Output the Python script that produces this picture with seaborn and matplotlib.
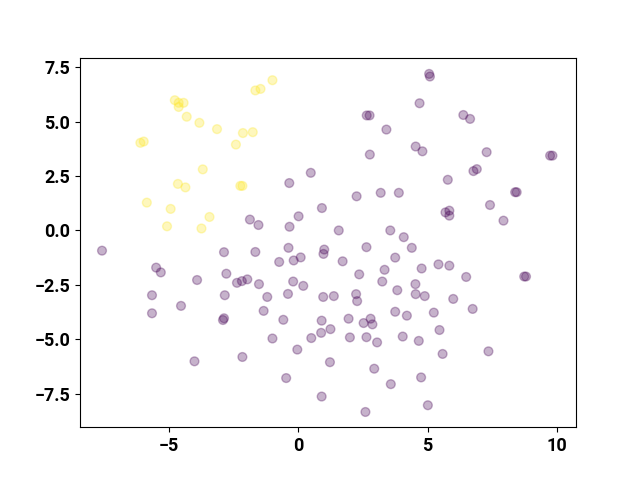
import matplotlib
matplotlib.use("Agg")
import matplotlib.pyplot as plt
import seaborn as sns
import pandas as pd

# class 1 (yellow)
yellow_x = [-4.76, -4.61, -4.42, -4.61, -4.30, -3.81, -3.13, -2.13, -1.75, -2.40,
            -6.09, -5.96, -3.68, -4.64, -4.35, -2.23, -2.15, -5.84, -4.92, -3.42,
            -5.06, -3.73, -0.99, -1.45, -1.65]
yellow_y = [5.99, 5.87, 5.87, 5.68, 5.23, 4.95, 4.66, 4.48, 4.52, 3.95,
            4.03, 4.09, 2.81, 2.14, 1.98, 2.05, 2.05, 1.28, 0.99, 0.62,
            0.19, 0.09, 6.91, 6.51, 6.44]

# class 0 (purple)
purple_x = [2.65, 2.76, 3.41, 4.54, 2.77, 0.49, -0.34, 2.26, 3.19, 3.89,
            0.92, -1.86, -1.53, 0.02, -0.33, 1.57, 3.56, 4.08,
            5.06, 5.09, 4.69, 6.38, 6.64, 4.80, 7.28, 9.73, 9.82, 6.77, 6.90,
            5.78, 5.69, 5.84, 5.84, 8.38, 8.44, 7.41, 7.93,
            -7.57, -2.86, -5.48, -5.30, -2.77, -3.90, -2.36, -2.17, -1.96,
            -5.64, -2.83, -4.52, -5.64, -2.86, -2.90, -4.00, -2.15,
            -1.65, -0.37, 1.01, 0.98, 2.64, -0.73, -0.17, 0.10, 1.72, 3.75,
            4.39, 3.34, 2.36, -1.51, -0.19, 0.20, 3.25, -1.19, -0.39, 0.97,
            1.38, 2.24, 2.28, 3.83, -1.33, -0.57, 0.91, 1.95, 2.53, 2.80,
            2.87, 3.75, 4.20, 0.89, 1.25, 0.51, -0.99, 2.00, 2.64, 3.05,
            4.04, -0.03, 1.23, 2.94, -0.46, 3.58, 0.91, 2.60,
            4.77, 5.42, 5.84, 6.49, 8.73, 8.80, 4.53, 4.54, 4.89, 5.99,
            6.74, 5.24, 5.46, 4.66, 5.58, 7.35, 4.75, 5.01]
purple_y = [5.29, 5.29, 4.64, 3.86, 3.49, 2.65, 2.18, 1.57, 1.73, 1.73,
            1.03, 0.50, 0.25, 0.65, 0.17, 0.00, 0.00, -0.31,
            7.20, 7.08, 5.85, 5.31, 5.13, 3.64, 3.60, 3.44, 3.44, 2.73, 2.82,
            2.33, 0.83, 0.91, 0.68, 1.76, 1.76, 1.17, 0.45,
            -0.93, -1.00, -1.71, -1.93, -1.99, -2.28, -2.41, -2.33, -2.25,
            -2.98, -2.98, -3.47, -3.81, -4.04, -4.12, -6.02, -5.82,
            -0.99, -0.80, -0.88, -1.08, -0.77, -1.45, -1.38, -1.24, -1.42, -1.25,
            -0.80, -1.81, -2.02, -2.47, -2.35, -2.55, -2.35, -3.06, -2.92, -3.06,
            -3.02, -2.93, -3.25, -2.75, -3.70, -4.11, -4.15, -4.06, -4.26, -4.06,
            -4.32, -3.74, -3.92, -4.71, -4.54, -4.95, -4.97, -4.92, -4.91, -5.15,
            -4.88, -5.48, -6.06, -6.36, -6.79, -7.07, -7.64, -8.35,
            -1.75, -1.56, -1.62, -2.14, -2.12, -2.12, -2.47, -2.93, -3.02, -3.15,
            -3.61, -3.78, -4.58, -5.08, -5.68, -5.56, -6.76, -8.04]

df = pd.DataFrame({
    "x": purple_x + yellow_x,
    "y": purple_y + yellow_y,
    "label": [0] * len(purple_x) + [1] * len(yellow_x),
})

plt.rcParams["font.family"] = ["Roboto", "DejaVu Sans"]
plt.rcParams["font.weight"] = "bold"

fig, ax = plt.subplots(figsize=(6.4, 4.8), dpi=100)
sns.scatterplot(data=df, x="x", y="y", hue="label",
                palette=["#440154", "#fde725"], alpha=0.3, s=40,
                edgecolor="face", linewidth=1, legend=False, ax=ax)
ax.set_xlabel("")
ax.set_ylabel("")
ax.set_xlim(-8.42, 10.73)
ax.set_ylim(-9.05, 7.95)
ax.set_xticks([-5, 0, 5, 10])
ax.set_yticks([-7.5, -5.0, -2.5, 0.0, 2.5, 5.0, 7.5])
ax.tick_params(labelsize=13)
for lab in ax.get_xticklabels() + ax.get_yticklabels():
    lab.set_fontweight("bold")
fig.savefig("out.png", dpi=100)
